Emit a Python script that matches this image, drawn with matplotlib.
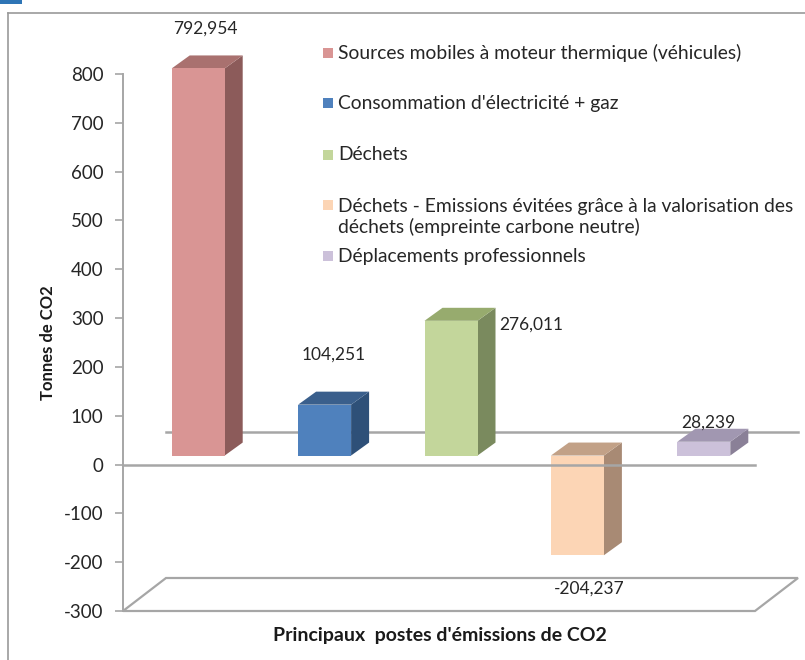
import matplotlib
matplotlib.use("Agg")
import matplotlib.pyplot as plt
from matplotlib.patches import Polygon, Rectangle
from matplotlib.transforms import ScaledTranslation

plt.rcParams['font.family'] = ['Lato', 'DejaVu Sans']
plt.rcParams['axes.unicode_minus'] = False

categories = [
    "Sources mobiles à moteur thermique (véhicules)",
    "Consommation d'électricité + gaz",
    "Déchets",
    "Déchets - Emissions évitées grâce à la valorisation des\ndéchets (empreinte carbone neutre)",
    "Déplacements professionnels",
]
values = [792.954, 104.251, 276.011, -204.237, 28.239]
value_labels = ["792,954", "104,251", "276,011", "-204,237", "28,239"]
yticks = [-300, -200, -100, 0, 100, 200, 300, 400, 500, 600, 700, 800]

front_colors = ["#D99594", "#4F81BD", "#C3D69B", "#FCD5B5", "#CCC1DA"]
side_colors = ["#8C5B5A", "#2E5078", "#7A8A5E", "#A88A74", "#8A8097"]
top_colors = ["#A9716F", "#3A5F8C", "#97AB6E", "#C2A187", "#A197B1"]

W, H = 805, 660
fig = plt.figure(figsize=(W / 100, H / 100), dpi=100)
ax_l, ax_r, ax_t, ax_b = 123, 755, 74, 611
ax = fig.add_axes([ax_l / W, (H - ax_b) / H, (ax_r - ax_l) / W, (ax_b - ax_t) / H])
ymin, ymax = -300, 800
ax.set_xlim(0, len(values))
ax.set_ylim(ymin, ymax)

px_x = (ax_r - ax_l) / len(values)      # pixels per data unit (x)
px_y = (ax_b - ax_t) / (ymax - ymin)    # pixels per data unit (y)

def off(dx, dy):
    return ax.transData + ScaledTranslation(dx / 100, dy / 100, fig.dpi_scale_trans)

grey = "#A6A6A6"
DX, DY = 43, 33
BX, BY = 12, 9
bdx, bdy = 18 / px_x, 13 / px_y
bw = 53 / px_x

floor = Polygon([(0, ymin), (len(values), ymin),
                 (len(values) + DX / px_x, ymin + DY / px_y), (DX / px_x, ymin + DY / px_y)],
                closed=True, facecolor="white", edgecolor=grey, lw=1.6, zorder=1, clip_on=False)
ax.add_patch(floor)
ax.plot([0, len(values)], [0, 0], color=grey, lw=1.8, transform=off(DX, DY), zorder=1.5, clip_on=False)

bt = off(BX, BY)
for i, v in enumerate(values):
    xc = i + 0.5
    x0, x1 = xc - bw / 2, xc + bw / 2
    ax.bar([xc], [v], width=bw, color=front_colors[i], transform=bt, zorder=3, clip_on=False)
    top = max(v, 0)
    bot = min(v, 0)
    side = Polygon([(x1, bot), (x1, top), (x1 + bdx, top + bdy), (x1 + bdx, bot + bdy)],
                   closed=True, facecolor=side_colors[i], edgecolor="none", transform=bt, zorder=2.9,
                   clip_on=False)
    topf = Polygon([(x0, top), (x1, top), (x1 + bdx, top + bdy), (x0 + bdx, top + bdy)],
                   closed=True, facecolor=top_colors[i], edgecolor="none", transform=bt, zorder=2.9,
                   clip_on=False)
    ax.add_patch(side)
    ax.add_patch(topf)

label_offsets = [(7, 40), (9, 50), (80, -4), (12, -33), (5, 19)]
for i, v in enumerate(values):
    ox, oy = label_offsets[i]
    ax.annotate(value_labels[i], xy=(i + 0.5, v), xycoords=bt, xytext=(ox, oy),
                textcoords="offset pixels", ha="center", va="center", fontsize=12.5,
                color="#262626", zorder=5, annotation_clip=False)

ax.plot([0, len(values)], [0, 0], color=grey, lw=1.8, zorder=4, clip_on=False)

for s in ["top", "right", "bottom"]:
    ax.spines[s].set_visible(False)
ax.spines["left"].set_color(grey)
ax.spines["left"].set_linewidth(1.4)
ax.set_xticks([])
ax.set_yticks(yticks)
ax.set_yticklabels([str(t) for t in yticks])
ax.tick_params(axis="y", length=6, width=1.2, color=grey, labelsize=13.5, labelcolor="#262626", pad=8)
ax.set_facecolor("none")

ax.set_ylabel("Tonnes de CO2", fontsize=12, fontweight="bold", color="#1a1a1a", labelpad=6)
fig.text(440 / W, 1 - 635 / H, "Principaux  postes d'émissions de CO2", ha="center", va="center",
         fontsize=14, fontweight="bold", color="#1a1a1a")

leg_y = [53, 103, 155, 217, 256]
for i, lab in enumerate(categories):
    y = leg_y[i]
    nlines = lab.count("\n") + 1
    ysq = y - (nlines - 1) * 12
    fig.patches.append(Rectangle((323 / W, 1 - (ysq + 5) / H), 10 / W, 10 / H,
                                 transform=fig.transFigure, facecolor=front_colors[i],
                                 edgecolor="none"))
    fig.text(338 / W, 1 - y / H, lab, ha="left", va="center", fontsize=13.9, color="#262626",
             linespacing=1.2)

fig.add_artist(plt.Line2D([8 / W, 8 / W], [0, 1 - 13 / H], transform=fig.transFigure, color="#9A9A9A", lw=1.2))
fig.add_artist(plt.Line2D([8 / W, 1], [1 - 13 / H, 1 - 13 / H], transform=fig.transFigure, color="#9A9A9A", lw=1.2))
fig.patches.append(Rectangle((0, 1 - 4 / H), 22 / W, 4 / H, transform=fig.transFigure,
                             facecolor="#2E75B6", edgecolor="none"))

fig.savefig("out.png", dpi=100)
